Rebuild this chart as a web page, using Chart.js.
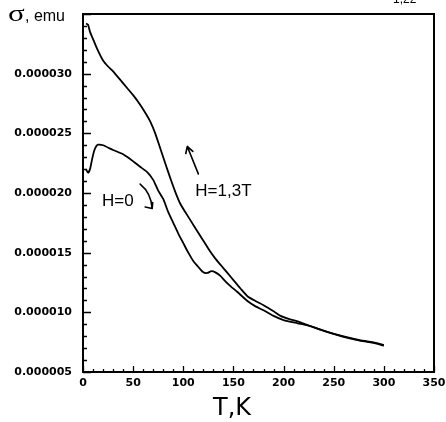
<!DOCTYPE html>
<html>
<head>
<meta charset="utf-8">
<script src="https://cdn.jsdelivr.net/npm/chart.js@4.4.0/dist/chart.umd.min.js"></script>
<style>
html,body{margin:0;padding:0;background:#fff;}
#c{display:block;}
</style>
</head>
<body>
<canvas id="c" width="446" height="422"></canvas>
<script>
// values in units of 1e-6 emu
const T_field = [3, 5, 7, 10, 14, 20, 25, 30, 37, 44, 50, 57, 63, 67, 72, 77, 82, 87, 92, 97, 102, 108, 114, 120, 126, 132, 138, 144, 150, 157, 164, 172, 180, 190, 197, 205, 214, 222, 230, 240, 250, 264, 275, 285, 294, 300];
const S_field = [34.2, 34.1, 33.5, 32.9, 32.1, 31.1, 30.6, 30.2, 29.5, 28.8, 28.2, 27.4, 26.6, 26.0, 25.0, 23.75, 22.5, 21.25, 20.1, 19.1, 18.4, 17.6, 16.8, 16.0, 15.2, 14.5, 13.9, 13.3, 12.7, 12.0, 11.35, 10.95, 10.6, 10.1, 9.7, 9.45, 9.25, 9.0, 8.75, 8.45, 8.2, 7.9, 7.7, 7.55, 7.4, 7.25];
const T_zero = [3, 5, 7, 9, 11, 13, 15, 20, 30, 40, 47, 57, 64, 70, 75, 80, 85, 90, 95, 100, 105, 110, 115, 120, 124, 128, 132, 137, 142, 147, 154, 164, 172, 180, 190, 200, 214, 224, 237, 250, 264, 275, 285, 294, 300];
const S_zero = [22.0, 21.7, 22.0, 22.8, 23.5, 23.9, 24.05, 24.0, 23.6, 23.25, 22.85, 22.2, 21.75, 21.1, 20.2, 19.5, 18.4, 17.5, 16.6, 15.8, 15.0, 14.3, 13.8, 13.35, 13.3, 13.45, 13.35, 13.05, 12.6, 12.2, 11.7, 10.95, 10.5, 10.17, 9.7, 9.35, 9.08, 8.9, 8.55, 8.2, 7.85, 7.65, 7.5, 7.35, 7.2];
const xTicks = [0, 50, 100, 150, 200, 250, 300, 350];
const yTickLabels = ['0.000005', '0.000010', '0.000015', '0.000020', '0.000025', '0.000030', ''];

const ptsField = T_field.map((t, i) => ({x: t, y: S_field[i]}));
const ptsZero = T_zero.map((t, i) => ({x: t, y: S_zero[i]}));

const decor = {
  id: 'decor',
  afterDraw(chart) {
    const ctx = chart.ctx;
    const xs = chart.scales.x, ys = chart.scales.y;
    const a = chart.chartArea;
    ctx.save();
    ctx.strokeStyle = '#000';
    ctx.fillStyle = '#000';
    // frame
    ctx.lineWidth = 2;
    ctx.strokeRect(a.left, a.top, a.right - a.left, a.bottom - a.top);
    // inward ticks
    ctx.lineWidth = 1.3;
    ctx.beginPath();
    for (let v = 0; v <= 350; v += 10) {
      const px = Math.round(xs.getPixelForValue(v)) + 0.5;
      const len = (v % 50 === 0) ? 6 : 3;
      ctx.moveTo(px, a.bottom);
      ctx.lineTo(px, a.bottom - len);
    }
    for (let v = 5; v <= 35; v += 1) {
      const py = Math.round(ys.getPixelForValue(v)) + 0.5;
      const len = (v % 5 === 0) ? 8 : 4;
      ctx.moveTo(a.left, py);
      ctx.lineTo(a.left + len, py);
    }
    ctx.stroke();

    // axis titles
    ctx.textBaseline = 'alphabetic';
    ctx.textAlign = 'left';
    ctx.save();
    ctx.translate(8, 21);
    ctx.scale(1.35, 1);
    ctx.font = '23px "Liberation Serif"';
    ctx.fillText('σ', 0, 0);
    ctx.restore();
    ctx.font = '16px "Liberation Sans"';
    ctx.fillText(', emu', 25, 21);
    ctx.font = '24px "DejaVu Sans"';
    ctx.fillText('T,K', 213, 415);
    ctx.font = '12px "Liberation Sans"';
    ctx.fillText('1,22', 393, 3);

    // annotations
    ctx.font = '17px "Liberation Sans"';
    ctx.fillText('H=1,3T', xs.getPixelForValue(112), ys.getPixelForValue(19.75));
    ctx.fillText('H=0', xs.getPixelForValue(19), ys.getPixelForValue(18.95));

    ctx.lineWidth = 1.6;
    ctx.lineCap = 'round';
    // straight arrow for H=1,3T
    const x1 = xs.getPixelForValue(115), y1 = ys.getPixelForValue(21.6);
    const x2 = xs.getPixelForValue(104), y2 = ys.getPixelForValue(23.9);
    ctx.beginPath();
    ctx.moveTo(x1, y1); ctx.lineTo(x2, y2);
    ctx.moveTo(x2, y2); ctx.lineTo(x2 - 1.5, y2 + 7);
    ctx.moveTo(x2, y2); ctx.lineTo(x2 + 5.5, y2 + 5);
    ctx.stroke();
    // curved arrow for H=0
    const c1x = xs.getPixelForValue(57), c1y = ys.getPixelForValue(20.75);
    const ccx = xs.getPixelForValue(68), ccy = ys.getPixelForValue(20.0);
    const c2x = xs.getPixelForValue(69), c2y = ys.getPixelForValue(18.7);
    ctx.beginPath();
    ctx.moveTo(c1x, c1y);
    ctx.quadraticCurveTo(ccx, ccy, c2x, c2y);
    ctx.moveTo(c2x, c2y); ctx.lineTo(c2x - 7, c2y - 1.5);
    ctx.moveTo(c2x, c2y); ctx.lineTo(c2x + 0.5, c2y - 6);
    ctx.stroke();
    ctx.restore();
  }
};

new Chart(document.getElementById('c'), {
  type: 'line',
  data: {
    datasets: [
      {label: 'H=1,3T', data: ptsField, borderColor: '#000', borderWidth: 1.8, pointRadius: 0, tension: 0.2, fill: false},
      {label: 'H=0', data: ptsZero, borderColor: '#000', borderWidth: 1.8, pointRadius: 0, tension: 0.2, fill: false}
    ]
  },
  options: {
    responsive: false,
    animation: false,
    events: [],
    layout: {padding: {top: 14, right: 12, left: 0, bottom: 0}},
    plugins: {legend: {display: false}, tooltip: {enabled: false}, title: {display: false}},
    scales: {
      x: {
        type: 'linear', min: 0, max: 350,
        afterBuildTicks(s) { s.ticks = xTicks.map(v => ({value: v})); },
        afterFit(s) { s.height = 50; s.paddingLeft = 0; s.paddingRight = 0; s.paddingTop = 0; s.paddingBottom = 0; },
        grid: {display: false, drawTicks: false, tickLength: 0},
        border: {display: false},
        ticks: {autoSkip: false, maxRotation: 0, padding: 5, color: '#000',
          font: {family: 'DejaVu Sans', size: 11, weight: 'bold'},
          callback: v => String(v)}
      },
      y: {
        type: 'linear', min: 5, max: 35,
        afterBuildTicks(s) { s.ticks = yTickLabels.map((l, i) => ({value: 5 + 5 * i})); },
        afterFit(s) { s.width = 83; s.paddingLeft = 0; s.paddingRight = 0; s.paddingTop = 0; s.paddingBottom = 0; },
        grid: {display: false, drawTicks: false, tickLength: 0},
        border: {display: false},
        ticks: {autoSkip: false, padding: 11, color: '#000',
          font: {family: 'DejaVu Sans', size: 11, weight: 'bold'},
          callback: (v, i) => yTickLabels[i]}
      }
    }
  },
  plugins: [decor]
});
</script>
</body>
</html>
